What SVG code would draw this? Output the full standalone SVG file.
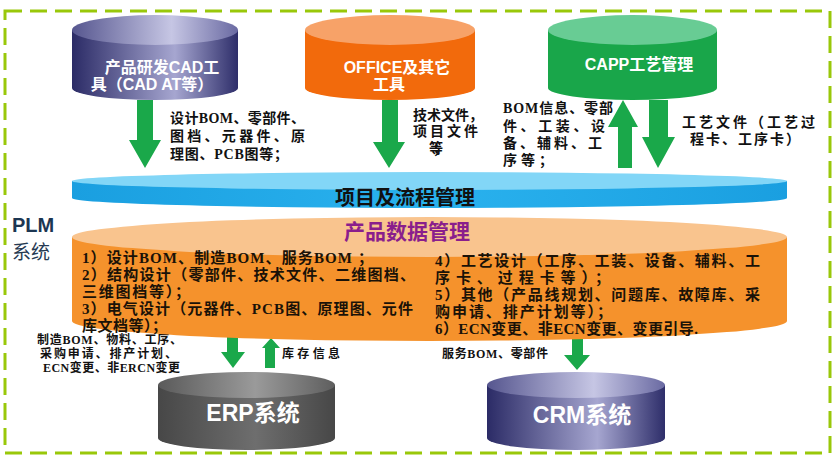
<svg xmlns="http://www.w3.org/2000/svg" width="840" height="460" viewBox="0 0 840 460">
<defs>
<linearGradient id="navyBody" x1="0" y1="0" x2="1" y2="0">
<stop offset="0" stop-color="#2b2b66"/><stop offset="0.62" stop-color="#a6a6d0"/><stop offset="1" stop-color="#2e2e6a"/>
</linearGradient>
<linearGradient id="navyTop" x1="0" y1="0" x2="1" y2="0">
<stop offset="0" stop-color="#56568f"/><stop offset="0.6" stop-color="#c6c6e4"/><stop offset="1" stop-color="#6a6aa2"/>
</linearGradient>
<linearGradient id="grayBody" x1="0" y1="0" x2="1" y2="0">
<stop offset="0" stop-color="#474747"/><stop offset="0.55" stop-color="#6e6e6e"/><stop offset="1" stop-color="#474747"/>
</linearGradient>
<linearGradient id="grayTop" x1="0" y1="0" x2="1" y2="0">
<stop offset="0" stop-color="#5a5a5a"/><stop offset="0.55" stop-color="#9a9a9a"/><stop offset="1" stop-color="#5e5e5e"/>
</linearGradient>
<linearGradient id="blueBody" x1="0" y1="0" x2="1" y2="0">
<stop offset="0" stop-color="#1a9fe0"/><stop offset="0.5" stop-color="#2ab2ee"/><stop offset="1" stop-color="#1a9fe0"/>
</linearGradient>
<style>
.lbl{font-family:"Liberation Serif","Noto Sans CJK SC",serif;font-weight:bold;font-size:14px;fill:#111}
.sm{font-family:"Liberation Serif","Noto Sans CJK SC",serif;font-weight:bold;font-size:12px;fill:#111}
.body{font-family:"Liberation Serif","Noto Sans CJK SC",serif;font-weight:bold;font-size:15px;fill:#1a1208}
.wt{font-family:"Liberation Sans","Noto Sans CJK SC",sans-serif;font-weight:bold;font-size:16px;fill:#fff;text-anchor:middle}
.big{font-family:"Liberation Sans","Noto Sans CJK SC",sans-serif;font-weight:bold;font-size:23px;fill:#fff;text-anchor:middle}
.arr{fill:#1aa84a}
</style>
</defs>
<rect width="840" height="460" fill="#fff"/>
<rect id="border" x="5" y="11" width="825" height="442" fill="none" stroke="#99c80a" stroke-width="3" stroke-dasharray="17 8"/>

<g id="connectors">
<polygon class="arr" points="137,100 153,100 153,140 161,140 145,168 129,140 137,140"/>
<polygon class="arr" points="382,100 398,100 398,142 405,142 389,168 373,142 382,142"/>
<polygon class="arr" points="618,168 632,168 632,127 638,127 623,100 608,127 618,127"/>
<polygon class="arr" points="649,100 668,100 668,137 675,137 658,168 642,137 649,137"/>
<polygon class="arr" points="227,330 238,330 238,352 245,352 233,368 221,352 227,352"/>
<polygon class="arr" points="265,368 275,368 275,348 280,348 271,338 262,348 265,348"/>
<polygon class="arr" points="572,330 583,330 583,355 590,355 577,370 564,355 572,355"/>
<text class="lbl" x="170" y="123" textLength="135">设计BOM、零部件、</text>
<text class="lbl" x="170" y="141" textLength="135">图档、元器件、原</text>
<text class="lbl" x="170" y="159" textLength="118">理图、PCB图等；</text>
<text class="lbl" x="413" y="120" textLength="70">技术文件，</text>
<text class="lbl" x="413" y="136" textLength="65">项目文件</text>
<text class="lbl" x="429" y="153" textLength="18">等；</text>
<text class="lbl" x="503" y="113" textLength="110">BOM信息、零部</text>
<text class="lbl" x="503" y="131" textLength="102">件、工装、设</text>
<text class="lbl" x="503" y="148" textLength="99">备、辅料、工</text>
<text class="lbl" x="503" y="165" textLength="50">序等；</text>
<text class="lbl" x="682" y="127" textLength="133">工艺文件（工艺过</text>
<text class="lbl" x="690" y="144" textLength="110">程卡、工序卡）</text>
<text class="sm" x="37" y="344" textLength="145">制造BOM、物料、工序、</text>
<text class="sm" x="40" y="358" textLength="137">采购申请、排产计划、</text>
<text class="sm" x="43" y="372" textLength="137">ECN变更、非ERCN变更</text>
<text class="sm" x="282" y="358" textLength="58">库存信息</text>
<text class="sm" x="442" y="358" textLength="106">服务BOM、零部件</text>
</g>

<g id="plm-label">
<text x="12" y="232" font-family="Liberation Sans,sans-serif" font-weight="bold" font-size="20" fill="#1c3652">PLM</text>
<text x="12" y="259" font-family="Noto Sans CJK SC,sans-serif" font-size="19" fill="#263a52">系统</text>
</g>

<g id="cad">
<path d="M72,30 L72,88 A83,12 0 0 0 238,88 L238,30 Z" fill="url(#navyBody)"/>
<ellipse cx="155" cy="30" rx="83" ry="15" fill="url(#navyTop)"/>
<text class="wt" x="162" y="73">产品研发CAD工</text>
<text class="wt" x="152" y="90">具（CAD AT等）</text>
</g>

<g id="office">
<path d="M305,30 L305,88 A85,12 0 0 0 475,88 L475,30 Z" fill="#f26a0c"/>
<ellipse cx="390" cy="30" rx="85" ry="15" fill="#f7a268"/>
<text class="wt" x="397" y="73">OFFICE及其它</text>
<text class="wt" x="389" y="90">工具</text>
</g>

<g id="capp">
<path d="M548,30 L548,88 A84.5,12 0 0 0 717,88 L717,30 Z" fill="#19a64a"/>
<ellipse cx="632.5" cy="30" rx="84.5" ry="15" fill="#68cc94"/>
<text class="wt" x="639" y="70">CAPP工艺管理</text>
</g>

<g id="project">
<path d="M72,181 L72,198 A357.5,10 0 0 0 787,198 L787,181 Z" fill="url(#blueBody)"/>
<ellipse cx="429.5" cy="181" rx="357.5" ry="9" fill="#82d6f7"/>
<text x="405" y="205" text-anchor="middle" font-family="Noto Sans CJK SC,sans-serif" font-weight="bold" font-size="20" fill="#111">项目及流程管理</text>
</g>

<g id="pdm">
<path d="M72,237 L72,321 A357.5,20 0 0 0 787,321 L787,237 Z" fill="#f5922c"/>
<ellipse cx="429.5" cy="237" rx="357.5" ry="20" fill="#f9c48e"/>
<text x="407" y="239" text-anchor="middle" font-family="Noto Sans CJK SC,sans-serif" font-weight="bold" font-size="21" fill="#8a1e8c">产品数据管理</text>
<text class="body" x="82" y="263" textLength="291">1）设计BOM、制造BOM、服务BOM ；</text>
<text class="body" x="82" y="280" textLength="333">2）结构设计（零部件、技术文件、二维图档、</text>
<text class="body" x="82" y="297" textLength="108">三维图档等）；</text>
<text class="body" x="82" y="314" textLength="331">3）电气设计（元器件、PCB图、原理图、元件</text>
<text class="body" x="82" y="331" textLength="85">库文档等）；</text>
<text class="body" x="435" y="266" textLength="325">4）工艺设计（工序、工装、设备、辅料、工</text>
<text class="body" x="435" y="283" textLength="175">序卡、过程卡等）；</text>
<text class="body" x="435" y="300" textLength="325">5）其他（产品线规划、问题库、故障库、采</text>
<text class="body" x="435" y="317" textLength="177">购申请、排产计划等）；</text>
<text class="body" x="435" y="334" textLength="263">6）ECN变更、非ECN变更、变更引导.</text>
</g>

<g id="erp">
<path d="M158,385 L158,438 A88.5,12 0 0 0 335,438 L335,385 Z" fill="url(#grayBody)"/>
<ellipse cx="246.5" cy="385" rx="88.5" ry="13" fill="url(#grayTop)"/>
<text class="big" x="253" y="421">ERP系统</text>
</g>

<g id="crm">
<path d="M487,385 L487,438 A89,12 0 0 0 665,438 L665,385 Z" fill="url(#navyBody)"/>
<ellipse cx="576" cy="385" rx="89" ry="13" fill="url(#navyTop)"/>
<text class="big" x="582" y="423">CRM系统</text>
</g>
</svg>
